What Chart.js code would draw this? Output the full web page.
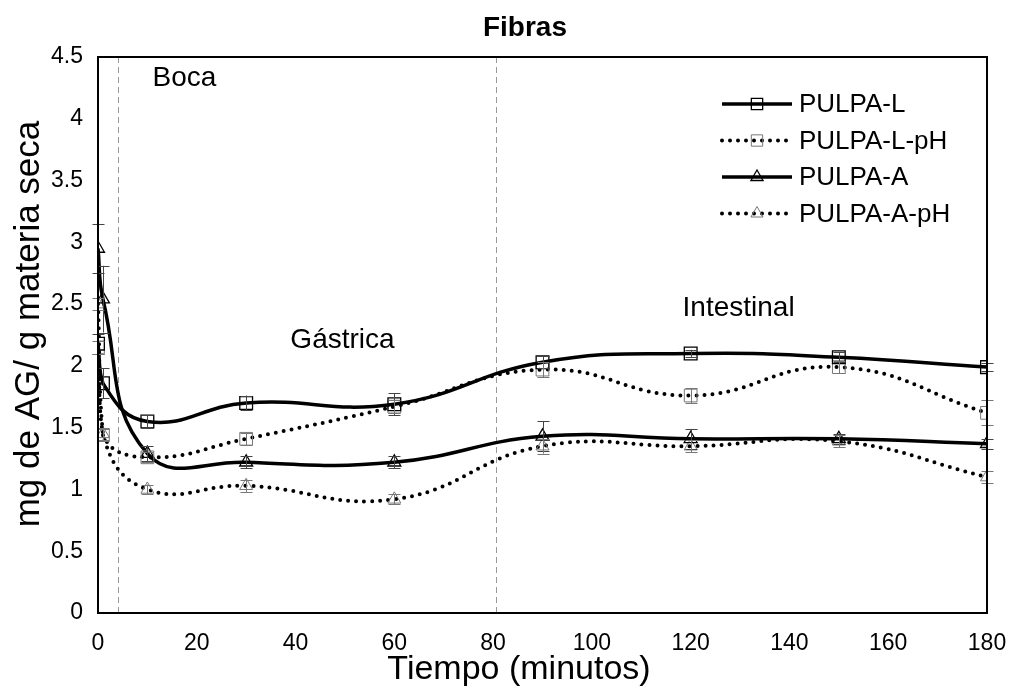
<!DOCTYPE html>
<html>
<head>
<meta charset="utf-8">
<script src="https://cdn.jsdelivr.net/npm/chart.js@4"></script>
<style>
  html, body { margin: 0; padding: 0; background: #fff; }
  #wrap { width: 1011px; height: 686px; }
</style>
</head>
<body>
<div id="wrap"><canvas id="chart"></canvas></div>
<script>
// datos
const tiempo = [0, 1, 10, 30, 60, 90, 120, 150, 180];
const pulpaL = [2.18, 1.86, 1.55, 1.70, 1.69, 2.03, 2.10, 2.07, 1.99];
const pulpaLpH = [2.15, 1.44, 1.26, 1.41, 1.67, 1.97, 1.76, 1.99, 1.62];
const pulpaA = [2.95, 2.54, 1.29, 1.22, 1.22, 1.43, 1.41, 1.41, 1.37];
const pulpaApH = [2.50, 1.45, 1.00, 1.03, 0.92, 1.35, 1.35, 1.39, 1.10];

const errL = [0.08, 0.12, 0.05, 0.06, 0.09, 0.05, 0.03, 0.04, 0.03];
const errLpH = [0.05, 0.05, 0.04, 0.05, 0.05, 0.06, 0.06, 0.05, 0.10];
const errA = [0.20, 0.27, 0.06, 0.05, 0.05, 0.12, 0.08, 0.04, 0.04];
const errApH = [0.05, 0.05, 0.04, 0.05, 0.04, 0.06, 0.05, 0.05, 0.05];

const etiquetas = ['PULPA-L', 'PULPA-L-pH', 'PULPA-A', 'PULPA-A-pH'];
const fases = [
  { texto: 'Boca', x: 17.5, y: 4.33 },
  { texto: 'Gástrica', x: 49.5, y: 2.21 },
  { texto: 'Intestinal', x: 129.7, y: 2.47 }
];
const divisiones = [4, 80.5];

const FONT = 'Arial, "Liberation Sans", sans-serif';

function puntos(valores) {
  return tiempo.map((t, i) => ({ x: t, y: valores[i] }));
}

function serie(label, valores, errores, punteada, estilo) {
  return {
    label,
    data: puntos(valores),
    errores,
    borderColor: '#000',
    borderWidth: punteada ? 4 : 3.5,
    borderDash: punteada ? [0, 8] : [],
    borderCapStyle: punteada ? 'round' : 'butt',
    tension: 0.45,
    fill: false,
    pointStyle: estilo,
    pointRadius: estilo === 'rect' ? 9 : 7.5,
    pointBorderColor: punteada ? '#777' : '#000',
    pointBorderWidth: punteada ? 1 : 1.3,
    pointBackgroundColor: 'rgba(0,0,0,0)'
  };
}

const datasets = [
  serie(etiquetas[0], pulpaL, errL, false, 'rect'),
  serie(etiquetas[1], pulpaLpH, errLpH, true, 'rect'),
  serie(etiquetas[2], pulpaA, errA, false, 'triangle'),
  serie(etiquetas[3], pulpaApH, errApH, true, 'triangle')
];

// títulos, barras de error, marco, líneas de fase, textos y leyenda
const extras = {
  id: 'extras',
  beforeDatasetsDraw(chart) {
    const { ctx, chartArea: a, scales: { x, y } } = chart;
    ctx.save();
    ctx.fillStyle = '#000';
    ctx.textAlign = 'center';
    ctx.textBaseline = 'middle';
    ctx.font = 'bold 28px ' + FONT;
    ctx.fillText('Fibras', 525, 28);

    ctx.font = '34px ' + FONT;
    ctx.textBaseline = 'alphabetic';
    ctx.fillText('Tiempo (minutos)', 519, 679);
    ctx.textBaseline = 'middle';
    ctx.font = '35px ' + FONT;
    ctx.save();
    ctx.translate(29, 324);
    ctx.rotate(-Math.PI / 2);
    ctx.fillText('mg de AG/ g materia seca', 0, 0);
    ctx.restore();

    ctx.strokeStyle = '#999';
    ctx.lineWidth = 1;
    ctx.setLineDash([6, 4]);
    divisiones.forEach(d => {
      const px = Math.round(x.getPixelForValue(d)) + 0.5;
      ctx.beginPath();
      ctx.moveTo(px, a.top);
      ctx.lineTo(px, a.bottom);
      ctx.stroke();
    });
    ctx.setLineDash([]);
    ctx.font = '28px ' + FONT;
    fases.forEach(f => ctx.fillText(f.texto, x.getPixelForValue(f.x), y.getPixelForValue(f.y)));
    ctx.restore();
  },
  afterDatasetsDraw(chart) {
    const { ctx, chartArea: a, scales: { y } } = chart;
    ctx.save();
    ctx.lineWidth = 1;
    chart.data.datasets.forEach((ds, i) => {
      const meta = chart.getDatasetMeta(i);
      ctx.strokeStyle = i % 2 ? '#777' : '#444';
      meta.data.forEach((p, j) => {
        const v = ds.data[j].y, e = ds.errores[j];
        const y1 = y.getPixelForValue(v + e), y2 = y.getPixelForValue(v - e);
        const px = Math.round(p.x) + 0.5;
        ctx.beginPath();
        ctx.moveTo(px, y1); ctx.lineTo(px, y2);
        ctx.moveTo(px - 6, Math.round(y1) + 0.5); ctx.lineTo(px + 6, Math.round(y1) + 0.5);
        ctx.moveTo(px - 6, Math.round(y2) + 0.5); ctx.lineTo(px + 6, Math.round(y2) + 0.5);
        ctx.stroke();
      });
    });
    // marco del área
    ctx.strokeStyle = '#000';
    ctx.lineWidth = 2;
    ctx.strokeRect(a.left, a.top, a.right - a.left, a.bottom - a.top);

    // leyenda
    const lx = 722, ly = 104, paso = 36.5;
    ctx.font = '26px ' + FONT;
    ctx.textAlign = 'left';
    ctx.textBaseline = 'middle';
    chart.data.datasets.forEach((ds, i) => {
      const yy = ly + i * paso;
      ctx.save();
      ctx.strokeStyle = '#000';
      ctx.lineWidth = ds.borderWidth;
      ctx.setLineDash(ds.borderDash);
      ctx.lineCap = ds.borderCapStyle;
      ctx.beginPath();
      ctx.moveTo(lx, yy); ctx.lineTo(lx + 70, yy);
      ctx.stroke();
      ctx.restore();
      ctx.fillStyle = 'rgba(0,0,0,0)';
      ctx.strokeStyle = ds.pointBorderColor;
      ctx.lineWidth = ds.pointBorderWidth;
      Chart.helpers.drawPoint(ctx, {
        pointStyle: ds.pointStyle,
        radius: ds.pointStyle === 'rect' ? 8 : 7,
        borderWidth: ds.pointBorderWidth
      }, lx + 35, yy);
      ctx.fillStyle = '#000';
      ctx.fillText(ds.label, lx + 77, yy + 1);
    });
    ctx.restore();
  }
};

new Chart(document.getElementById('chart'), {
  type: 'line',
  data: { datasets },
  plugins: [extras],
  options: {
    responsive: true,
    maintainAspectRatio: false,
    animation: false,
    layout: { padding: { left: 0, right: 24, top: 57, bottom: 0 } },
    plugins: {
      legend: { display: false },
      tooltip: { enabled: false },
      title: { display: false }
    },
    scales: {
      x: {
        type: 'linear',
        min: 0,
        max: 180,
        grid: { display: false, drawTicks: true, tickLength: 7, tickColor: '#888' },
        border: { display: false },
        ticks: { stepSize: 20, color: '#000', padding: 10, font: { family: FONT, size: 23 } },
        title: { display: false },
        afterFit(s) { s.height = 73; s.paddingLeft = 0; s.paddingRight = 0; }
      },
      y: {
        min: 0,
        max: 4.5,
        grid: { display: false, drawTicks: true, tickLength: 7, tickColor: '#888' },
        border: { display: false },
        ticks: {
          stepSize: 0.5,
          color: '#000',
          padding: 8,
          font: { family: FONT, size: 23 },
          callback: v => String(v)
        },
        title: { display: false },
        afterFit(s) { s.width = 98; s.paddingTop = 0; s.paddingBottom = 0; }
      }
    }
  }
});
</script>
</body>
</html>
